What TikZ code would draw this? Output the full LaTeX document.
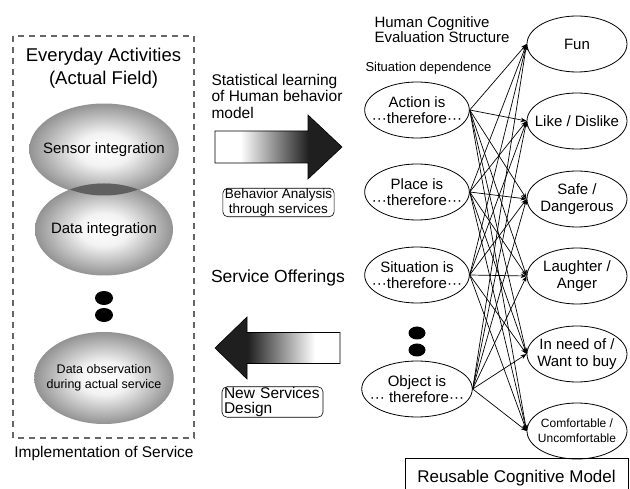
\documentclass[tikz,border=0pt]{standalone}
\usepackage{fontspec}
\setmainfont{Liberation Sans}
\usepackage{tikz}
\usetikzlibrary{positioning, shapes.geometric, arrows, arrows.meta}
\newcommand{\fsz}[2]{\fontsize{#1}{#2}\selectfont}
\newcommand{\thf}{···therefore···}
\pgfdeclarehorizontalshading{fade}{100bp}{color(0bp)=(white); color(35bp)=(white); color(62bp)=(black!88); color(100bp)=(black!88)}
\pgfdeclareradialshading{orb}{\pgfpoint{0bp}{0bp}}{color(0bp)=(white); color(9bp)=(gray!10); color(25bp)=(gray!85); color(50bp)=(gray!85)}
\tikzset{
  field/.style={ellipse, minimum width=138pt, minimum height=92pt, inner xsep=-8pt, inner ysep=0pt,
    shading=orb, align=center, font=\fsz{15}{17}},
  cogn/.style={ellipse, draw, line width=0.8pt, minimum width=100pt, minimum height=56pt,
    inner xsep=-8pt, inner ysep=0pt, align=center, font=\fsz{15}{16.5}},
  tag/.style={draw, rounded corners=5pt, line width=0.6pt, inner xsep=2pt, inner ysep=0.5pt},
  bigarrow/.style={draw, shade, shading=fade, line width=0.6pt}
}

\begin{document}
\begin{tikzpicture}[x=1pt, y=-1pt, >={Stealth[length=6pt, width=4.5pt]}]
            \useasboundingbox (0,0) rectangle (630,489);

            % actual field
            \draw [black!60, line width=1.5pt, dash pattern=on 6pt off 5pt] (13,36) rectangle (194,438);
            \node [font=\fsz{18.5}{23}, align=center] (field) at (103.5,68.5) {Everyday Activities\\(Actual Field)};
            \node [field, shade] (sensor) at (104,149.5) {Sensor integration};
            \node [field, shade] (data) at (104,229.5) {Data integration};
            \begin{scope}
                \clip (104,149.5) ellipse [x radius=69pt, y radius=46pt];
                \fill [gray!75!black] (104,229.5) ellipse [x radius=69pt, y radius=46pt];
            \end{scope}
            \fill (104,298) ellipse [x radius=9pt, y radius=7pt];
            \fill (104,315) ellipse [x radius=9pt, y radius=7pt];
            \node [field, shade, font=\fsz{12.5}{15}] (observ) at (104,378) {Data observation\\during actual service};
            \node [font=\fsz{15.5}{18}] (impl) at (104,453) {Implementation of Service};

            % middle arrows
            \node [font=\fsz{15.5}{16.5}, align=left, anchor=west] (learn) at (208,96) {Statistical learning\\of Human behavior\\model};
            \path [bigarrow] (215,131) -- (308,131) -- (308,115) -- (342,147) -- (308,179) -- (308,163) -- (215,163) -- cycle;
            \node [tag, align=center, font=\fsz{13.5}{15}] (analysis) at (278.5,202.5) {Behavior Analysis\\through services};
            \node [font=\fsz{17.5}{20}] (offer) at (278,278) {Service Offerings};
            \path [bigarrow, shading angle=180] (340,332.5) -- (247,332.5) -- (247,317) -- (215,348) -- (247,379) -- (247,363.5) -- (340,363.5) -- cycle;
            \node [tag, text width=97pt, align=left, font=\fsz{15.5}{15}] (design) at (272.5,402) {New Services\\Design};

            % cognitive structure
            \node [font=\fsz{15}{15}, align=left, anchor=west] (struct) at (371,29.5) {Human Cognitive\\Evaluation Structure};
            \node [font=\fsz{13}{15}, anchor=west] (depend) at (362,68) {Situation dependence};

            \node [cogn] (act) at (417,110) {Action is\\\thf};
            \node [cogn] (plc) at (417,192) {Place is\\\thf};
            \node [cogn] (sit) at (417,275) {Situation is\\\thf};
            \fill (417,333) ellipse [x radius=8.5pt, y radius=6.5pt];
            \fill (417,350) ellipse [x radius=8.5pt, y radius=6.5pt];
            \node [cogn] (obj) at (417,389) {Object is\\··· therefore···};

            \node [cogn] (fun) at (577,44) {Fun};
            \node [cogn] (like) at (577,121) {Like / Dislike};
            \node [cogn] (safe) at (577,199) {Safe /\\Dangerous};
            \node [cogn] (laugh) at (577,276) {Laughter /\\Anger};
            \node [cogn] (need) at (577,354) {In need of /\\Want to buy};
            \node [cogn, font=\fsz{12}{15}] (comf) at (577,431) {Comfortable /\\Uncomfortable};

            \path [->, line width=0.7pt] (act.east) edge (fun.west) edge (like.west) edge (safe.west)
                edge (laugh.west) edge (need.west) edge (comf.west);
            \path [->, line width=0.7pt] (plc.east) edge (fun.west) edge (like.west) edge (safe.west)
                edge (laugh.west) edge (need.west) edge (comf.west);
            \path [->, line width=0.7pt] (sit.east) edge (fun.west) edge (like.west) edge (safe.west)
                edge (laugh.west) edge (need.west) edge (comf.west);
            \path [->, line width=0.7pt] (obj.east) edge (fun.west) edge (like.west) edge (safe.west)
                edge (laugh.west) edge (need.west) edge (comf.west);

            \node [draw, line width=0.8pt, minimum width=223pt, minimum height=40pt, font=\fsz{17}{19}] (reuse) at (516.5,478) {Reusable Cognitive Model};
        \end{tikzpicture}
\end{document}
